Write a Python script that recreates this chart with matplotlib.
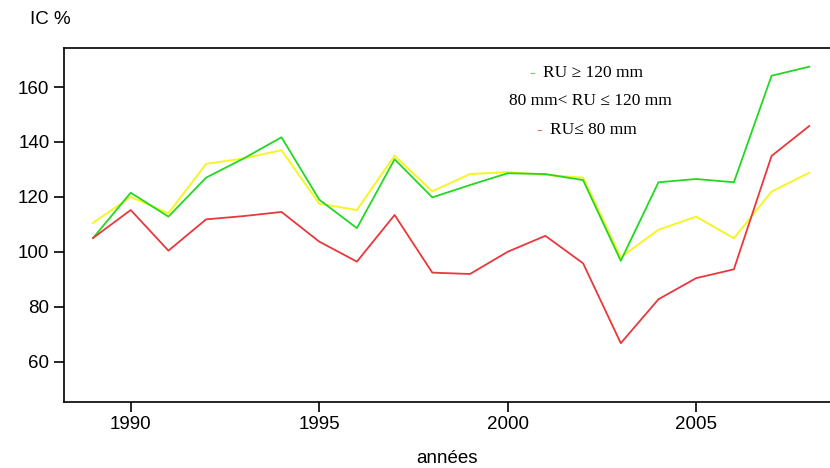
import numpy as np
import matplotlib.pyplot as plt

annees = np.arange(1989, 2009)

# RU >= 120 mm
ru_haut = [105, 121.5, 112.8, 127, 134, 141.7, 119, 108.6, 133.7, 119.8,
           124.3, 128.6, 128.3, 126.1, 96.7, 125.3, 126.5, 125.3, 164.1, 167.4]
# 80 mm < RU <= 120 mm
ru_moyen = [110.5, 120, 114, 132, 134, 137, 117.5, 115.2, 135, 122,
            128.3, 129, 128, 127, 98, 108, 112.8, 104.9, 121.9, 128.8]
# RU <= 80 mm
ru_bas = [105, 115.2, 100.4, 111.8, 113, 114.5, 103.7, 96.4, 113.4, 92.4,
          91.9, 100, 105.8, 95.8, 66.7, 82.7, 90.4, 93.6, 134.9, 145.8]

vert = '#22d822'
jaune = '#f5f524'
rouge = '#e8383c'

plt.rcParams['font.family'] = ['Liberation Sans', 'DejaVu Sans']

fig = plt.figure(figsize=(8.3, 4.68), dpi=100)
ax = fig.add_axes([64 / 830, 0.1417, 1 - 64 / 830, 0.7551])

ax.plot(annees, ru_moyen, color=jaune, linewidth=1.4)
ax.plot(annees, ru_haut, color=vert, linewidth=1.3)
ax.plot(annees, ru_bas, color=rouge, linewidth=1.3)

ax.set_xlim(1988.23, 2008.55)
ax.set_ylim(45.4, 174.1)
ax.set_xticks([1990, 1995, 2000, 2005])
ax.set_yticks([60, 80, 100, 120, 140, 160])
ax.tick_params(labelsize=13.5, length=7, width=1.2, colors='black')
ax.spines['right'].set_visible(False)
for s in ['left', 'top', 'bottom']:
    ax.spines[s].set_linewidth(1.2)

ax.set_xlabel('années', fontsize=13.5, labelpad=12)
fig.text(30 / 830, 1 - 20 / 468, 'IC %', fontsize=13.5, va='center', ha='left')

# Légende
serif = ['Liberation Serif', 'DejaVu Serif']
lx = 590 / 830
fig.text(lx - 0.066, 1 - 73 / 468, '-', color=vert, fontsize=12.5, family=serif, va='center', ha='right')
fig.text(lx + 0.004, 1 - 73 / 468, 'RU \u2265 120 mm', fontsize=12.5, family=serif, va='center', ha='center')
fig.text(lx, 1 - 101 / 468, '80 mm< RU \u2264 120 mm', fontsize=12.5, family=serif, va='center', ha='center')
fig.text(lx - 0.058, 1 - 130 / 468, '-', color=rouge, fontsize=12.5, family=serif, va='center', ha='right')
fig.text(lx + 0.004, 1 - 130 / 468, 'RU\u2264 80 mm', fontsize=12.5, family=serif, va='center', ha='center')

fig.savefig('out.png', dpi=100)
